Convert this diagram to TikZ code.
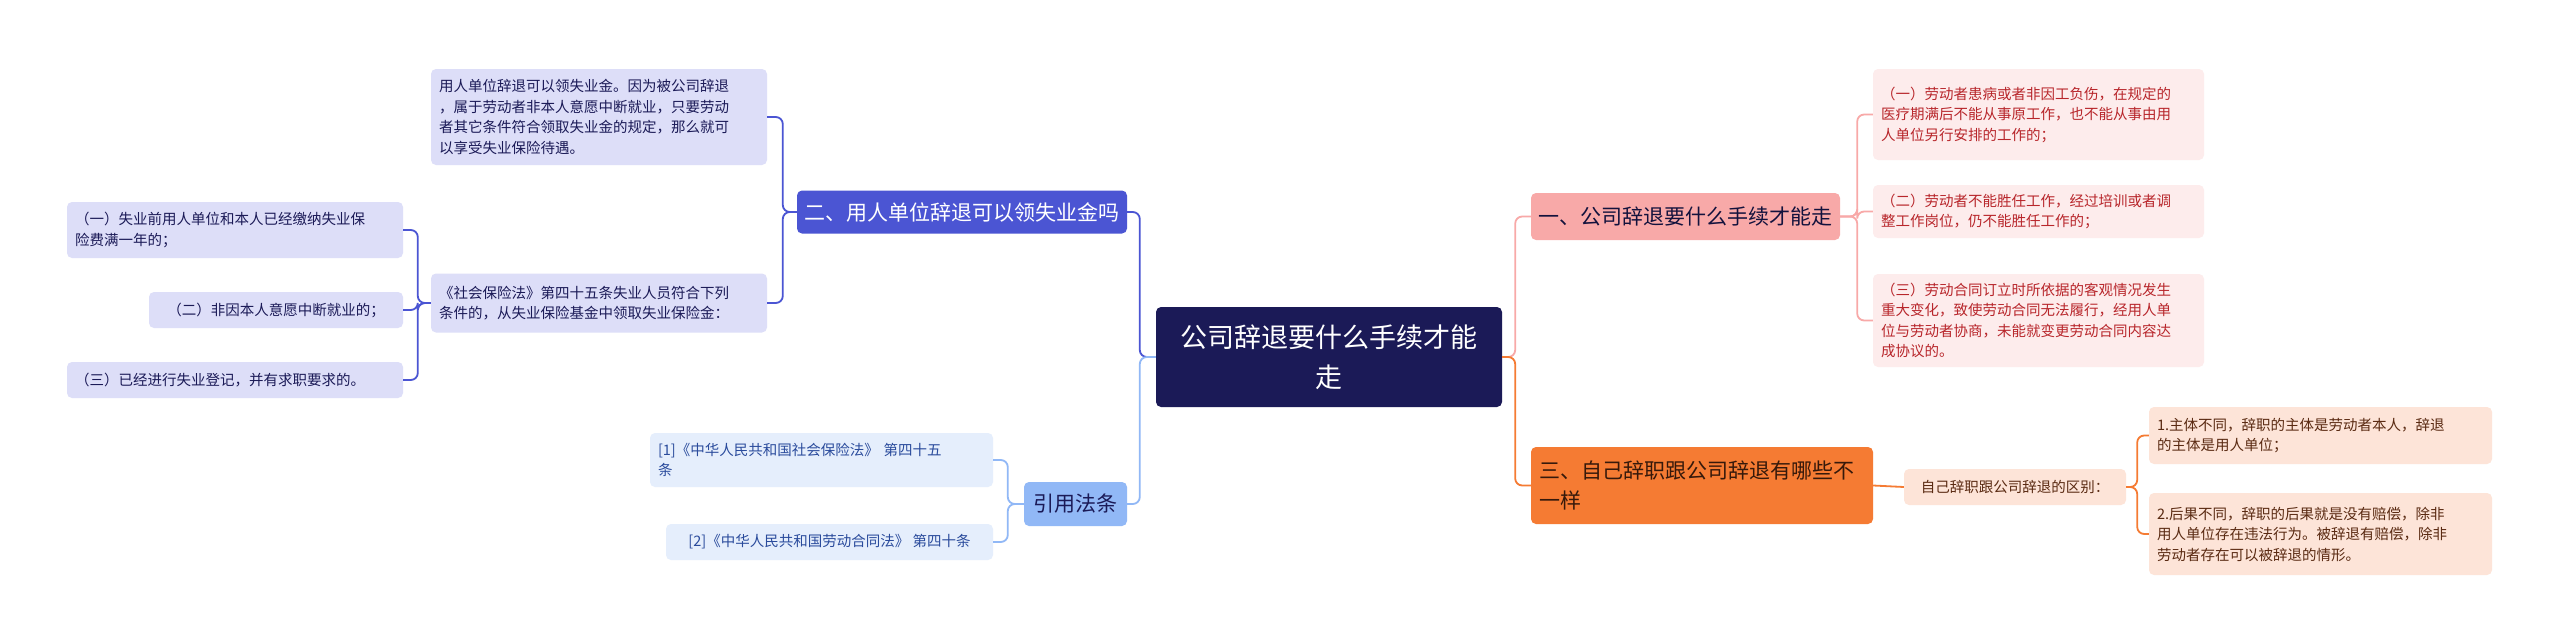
\documentclass[tikz,border=0pt]{standalone}
\usepackage{fontspec}
\setmainfont{Noto Sans CJK SC}
\begin{document}
\begin{tikzpicture}[x=1pt,y=-1pt,
 box/.style={rounded corners=5pt,inner sep=0pt,align=left,font=\fontsize{14.5}{20.5}\selectfont},
 conn/.style={line width=1.8pt,rounded corners=7pt},
 purp/.style={box,fill=purpL,text=navy},
 blue/.style={box,fill=blueL,text=blueT},
 pink/.style={box,fill=pinkL,text=redT},
 orng/.style={box,fill=orngL,text=brownT}]
\definecolor{navy}{HTML}{1B1A57}
\definecolor{purp}{HTML}{4B55D3}
\definecolor{purpL}{HTML}{DDDEF8}
\definecolor{blueB}{HTML}{91B8F6}
\definecolor{blueL}{HTML}{E5EEFC}
\definecolor{blueT}{HTML}{2A4B9C}
\definecolor{pinkB}{HTML}{F8A9A8}
\definecolor{pinkL}{HTML}{FDECEC}
\definecolor{redT}{HTML}{B8262B}
\definecolor{orng}{HTML}{F57B33}
\definecolor{orngL}{HTML}{FDE4D8}
\definecolor{brownT}{HTML}{5A2A12}
\useasboundingbox[fill=white] (0,0) rectangle (2560,643);
% root
\node[box,fill=navy,text=white,align=center,minimum width=346pt,minimum height=100pt,font=\fontsize{27}{40}\selectfont] (root) at (1329,357) {公司辞退要什么手续才能\\走};
% left branches
\node[box,fill=purp,text=white,minimum width=330pt,minimum height=43pt,font=\fontsize{21}{28}\selectfont,align=center] (b2) at (962,212) {二、用人单位辞退可以领失业金吗};
\node[purp,minimum width=336pt,minimum height=96pt,text width=320pt] (p1) at (599,117) {用人单位辞退可以领失业金。因为被公司辞退\\，属于劳动者非本人意愿中断就业，只要劳动\\者其它条件符合领取失业金的规定，那么就可\\以享受失业保险待遇。};
\node[purp,minimum width=336pt,minimum height=59pt,text width=320pt] (p2) at (599,303) {《社会保险法》第四十五条失业人员符合下列\\条件的，从失业保险基金中领取失业保险金：};
\node[purp,minimum width=336pt,minimum height=56pt,text width=320pt] (q1) at (235,230) {（一）失业前用人单位和本人已经缴纳失业保\\险费满一年的；};
\node[purp,minimum width=254pt,minimum height=36pt,align=center] (q2) at (276,310) {（二）非因本人意愿中断就业的；};
\node[purp,minimum width=336pt,minimum height=36pt,text width=320pt] (q3) at (235,380) {（三）已经进行失业登记，并有求职要求的。};
\node[box,fill=blueB,text=navy,minimum width=103pt,minimum height=44pt,align=center,font=\fontsize{21}{28}\selectfont] (b4) at (1075.5,504) {引用法条};
\node[blue,minimum width=343pt,minimum height=54pt,text width=327pt] (c1) at (821.5,460) {[1]《中华人民共和国社会保险法》 第四十五\\条};
\node[blue,minimum width=327pt,minimum height=36pt,align=center] (c2) at (829.5,542) {[2]《中华人民共和国劳动合同法》 第四十条};
% right branches
\node[box,fill=pinkB,text=navy!70!black,minimum width=309pt,minimum height=47pt,align=center,font=\fontsize{21}{28}\selectfont] (b1) at (1685.5,216.5) {一、公司辞退要什么手续才能走};
\node[pink,minimum width=331pt,minimum height=91pt,text width=315pt] (r1) at (2038.5,114.5) {（一）劳动者患病或者非因工负伤，在规定的\\医疗期满后不能从事原工作，也不能从事由用\\人单位另行安排的工作的；};
\node[pink,minimum width=331pt,minimum height=53pt,text width=315pt] (r2) at (2038.5,211.5) {（二）劳动者不能胜任工作，经过培训或者调\\整工作岗位，仍不能胜任工作的；};
\node[pink,minimum width=331pt,minimum height=93pt,text width=315pt] (r3) at (2038.5,320.5) {（三）劳动合同订立时所依据的客观情况发生\\重大变化，致使劳动合同无法履行，经用人单\\位与劳动者协商，未能就变更劳动合同内容达\\成协议的。};
\node[box,fill=orng,text=brownT!60!black,minimum width=342pt,minimum height=77pt,text width=326pt,font=\fontsize{21}{30}\selectfont] (b3) at (1702,485.5) {三、自己辞职跟公司辞退有哪些不\\一样};
\node[orng,minimum width=222pt,minimum height=36pt,align=center] (o0) at (2015,487) {自己辞职跟公司辞退的区别：};
\node[orng,minimum width=343pt,minimum height=57pt,text width=327pt] (o1) at (2320.5,435.5) {1.主体不同，辞职的主体是劳动者本人，辞退\\的主体是用人单位；};
\node[orng,minimum width=343pt,minimum height=82pt,text width=327pt] (o2) at (2320.5,534) {2.后果不同，辞职的后果就是没有赔偿，除非\\用人单位存在违法行为。被辞退有赔偿，除非\\劳动者存在可以被辞退的情形。};
% connectors
\foreach \t in {b2} \draw[conn,draw=purp] (root.west) -- ++(-16,0) |- (\t.east);
\draw[conn,draw=blueB] (root.west) -- ++(-16,0) |- (b4.east);
\foreach \t in {p1,p2} \draw[conn,draw=purp] (b2.west) -- ++(-14,0) |- (\t.east);
\foreach \t in {q1,q2,q3} \draw[conn,draw=purp] (p2.west) -- ++(-13,0) |- (\t.east);
\foreach \t in {c1,c2} \draw[conn,draw=blueB] (b4.west) -- ++(-16,0) |- (\t.east);
\draw[conn,draw=pinkB] (root.east) -- ++(13,0) |- (b1.west);
\draw[conn,draw=orng] (root.east) -- ++(13,0) |- (b3.west);
\foreach \t in {r1,r2,r3} \draw[conn,draw=pinkB] (b1.east) -- ++(17,0) |- (\t.west);
\draw[conn,draw=orng] (b3.east) -- (o0.west);
\foreach \t in {o1,o2} \draw[conn,draw=orng] (o0.east) -- ++(11,0) |- (\t.west);
\end{tikzpicture}
\end{document}
